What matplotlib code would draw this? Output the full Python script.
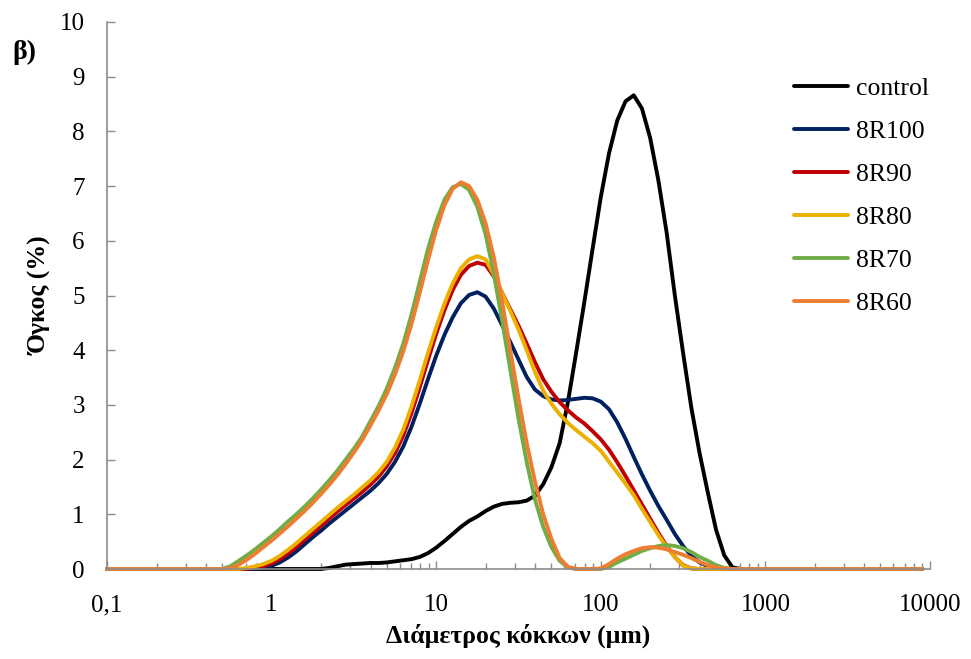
import numpy as np
import matplotlib
matplotlib.use('Agg')
import matplotlib.pyplot as plt
from matplotlib.ticker import LogLocator, NullFormatter

# particle diameter (um), log grid
sizes = [0.1,
         0.447, 0.501, 0.562, 0.631, 0.708, 0.794, 0.891, 1.0, 1.122, 1.259,
         1.413, 1.585, 1.778, 1.995, 2.239, 2.512, 2.818, 3.162, 3.548, 3.981,
         4.467, 5.012, 5.623, 6.310, 7.079, 7.943, 8.913, 10.0, 11.22, 12.59,
         14.13, 15.85, 17.78, 19.95, 22.39, 25.12, 28.18, 31.62, 35.48, 39.81,
         44.67, 50.12, 56.23, 63.10, 70.79, 79.43, 89.13, 100.0, 112.2, 125.9,
         141.3, 158.5, 177.8, 199.5, 223.9, 251.2, 281.8, 316.2, 354.8, 398.1,
         446.7, 501.2, 562.3, 631.0, 707.9, 794.3,
         9000]

control = [0,
           0, 0, 0, 0, 0, 0, 0, 0, 0, 0,
           0, 0, 0, 0, 0.02, 0.05, 0.08, 0.09, 0.10, 0.11,
           0.11, 0.12, 0.14, 0.16, 0.18, 0.22, 0.29, 0.39, 0.51, 0.64,
           0.77, 0.88, 0.96, 1.06, 1.14, 1.19, 1.21, 1.22, 1.25, 1.34,
           1.55, 1.86, 2.30, 3.05, 3.95, 4.88, 5.85, 6.80, 7.60, 8.20,
           8.55, 8.66, 8.42, 7.88, 7.10, 6.15, 5.00, 3.95, 2.95, 2.12,
           1.40, 0.72, 0.25, 0.03, 0, 0,
           0]

r100 = [0,
        0, 0, 0, 0, 0, 0, 0.02, 0.06, 0.12, 0.21,
        0.32, 0.45, 0.58, 0.70, 0.83, 0.95, 1.07, 1.19, 1.31, 1.43,
        1.57, 1.74, 1.96, 2.24, 2.60, 3.02, 3.47, 3.90, 4.28, 4.60,
        4.86, 5.01, 5.06, 4.98, 4.76, 4.46, 4.15, 3.83, 3.51, 3.28,
        3.16, 3.10, 3.08, 3.09, 3.11, 3.13, 3.12, 3.06, 2.92, 2.68,
        2.38, 2.05, 1.73, 1.43, 1.15, 0.90, 0.64, 0.42, 0.24, 0.12,
        0.05, 0.01, 0, 0, 0, 0,
        0]

r90 = [0,
       0, 0, 0, 0, 0, 0.02, 0.05, 0.10, 0.18, 0.28,
       0.40, 0.53, 0.66, 0.79, 0.92, 1.05, 1.17, 1.29, 1.41, 1.54,
       1.69, 1.88, 2.12, 2.44, 2.85, 3.32, 3.82, 4.30, 4.73, 5.10,
       5.38, 5.54, 5.60, 5.56, 5.35, 5.05, 4.75, 4.45, 4.12, 3.78,
       3.47, 3.24, 3.05, 2.90, 2.77, 2.66, 2.52, 2.37, 2.18, 1.95,
       1.70, 1.44, 1.18, 0.92, 0.66, 0.42, 0.22, 0.07, 0.01, 0,
       0, 0, 0, 0, 0, 0,
       0]

r80 = [0,
       0, 0, 0, 0, 0.02, 0.05, 0.09, 0.15, 0.24, 0.35,
       0.47, 0.60, 0.73, 0.86, 0.99, 1.12, 1.24, 1.36, 1.49, 1.62,
       1.77, 1.96, 2.22, 2.55, 2.97, 3.45, 3.95, 4.42, 4.85, 5.22,
       5.50, 5.66, 5.72, 5.66, 5.38, 5.05, 4.72, 4.38, 4.00, 3.60,
       3.26, 3.02, 2.83, 2.67, 2.54, 2.42, 2.30, 2.16, 1.96, 1.76,
       1.56, 1.35, 1.10, 0.86, 0.62, 0.40, 0.22, 0.06, 0.01, 0,
       0, 0, 0, 0, 0, 0,
       0]

r70 = [0,
       0, 0, 0.05, 0.15, 0.25, 0.36, 0.48, 0.60, 0.73, 0.87,
       1.00, 1.14, 1.29, 1.45, 1.62, 1.80, 2.00, 2.20, 2.42, 2.70,
       2.98, 3.30, 3.68, 4.12, 4.65, 5.25, 5.85, 6.35, 6.75, 6.98,
       7.04, 6.93, 6.62, 6.12, 5.40, 4.55, 3.65, 2.75, 1.95, 1.27,
       0.77, 0.40, 0.15, 0.03, 0, 0, 0, 0, 0.04, 0.12,
       0.19, 0.26, 0.33, 0.38, 0.42, 0.44, 0.42, 0.38, 0.31, 0.22,
       0.15, 0.07, 0.02, 0, 0, 0,
       0]

r60 = [0,
       0, 0, 0.01, 0.08, 0.17, 0.28, 0.40, 0.52, 0.65, 0.78,
       0.92, 1.06, 1.21, 1.37, 1.54, 1.72, 1.92, 2.13, 2.36, 2.62,
       2.90, 3.20, 3.56, 3.98, 4.48, 5.05, 5.65, 6.20, 6.65, 6.95,
       7.07, 7.00, 6.75, 6.32, 5.70, 4.90, 4.00, 3.12, 2.30, 1.60,
       1.00, 0.55, 0.20, 0.04, 0, 0, 0, 0.01, 0.09, 0.19,
       0.27, 0.33, 0.38, 0.40, 0.39, 0.36, 0.31, 0.26, 0.20, 0.13,
       0.07, 0.03, 0.01, 0, 0, 0,
       0]

names = ['control', '8R100', '8R90', '8R80', '8R70', '8R60']
colors = ['#000000', '#002060', '#C00000', '#EBB000', '#70AD47', '#ED7D31']
x_ticks = [0.1, 1, 10, 100, 1000, 10000]
x_tick_labels = ['0,1', '1', '10', '100', '1000', '10000']

plt.rcParams['font.family'] = ['Liberation Serif', 'DejaVu Serif']

fig = plt.figure(figsize=(9.71, 6.59), dpi=100)
ax = fig.add_axes([107 / 971, 1 - 569 / 659, (930 - 107) / 971, (569 - 22) / 659])

for name, vals, c in zip(names, [control, r100, r90, r80, r70, r60], colors):
    ax.plot(sizes, vals, color=c, lw=2.8, label=name, clip_on=False,
            solid_joinstyle='round', solid_capstyle='round')

ax.set_xscale('log')
ax.set_xlim(0.1, 10000)
ax.set_ylim(0, 10)
ax.set_xticks(x_ticks)
ax.set_xticklabels(x_tick_labels)
ax.xaxis.set_minor_locator(LogLocator(base=10, subs=np.arange(2, 10)))
ax.xaxis.set_minor_formatter(NullFormatter())
ax.set_yticks(range(0, 11))

for s in ['top', 'right']:
    ax.spines[s].set_visible(False)
for s in ['left', 'bottom']:
    ax.spines[s].set_color('#8c8c8c')
    ax.spines[s].set_linewidth(1.2)

ax.tick_params(axis='both', which='both', direction='in', color='#8c8c8c', labelsize=18)
ax.tick_params(axis='both', which='major', length=6, width=1)
ax.tick_params(axis='x', which='minor', length=4, width=1)
ax.tick_params(axis='y', pad=16)
ax.tick_params(axis='x', pad=18)

ax.set_xlabel('Διάμετρος κόκκων (μm)', fontsize=18.5, fontweight='bold')
ax.xaxis.set_label_coords(0.5, -0.10)
ax.set_ylabel('Όγκος (%)', fontsize=18.5, fontweight='bold')
ax.yaxis.set_label_coords(-0.066, 0.5)

fig.text(12 / 971, 1 - 52 / 659, 'β)', fontsize=20, fontweight='bold', va='center')

ax.legend(loc='upper left', bbox_to_anchor=(0.835, 0.899), frameon=False,
          fontsize=18.5, handlelength=2.1, handletextpad=0.3, labelspacing=0.78,
          borderpad=0, borderaxespad=0)

fig.savefig('out.png', dpi=100)
